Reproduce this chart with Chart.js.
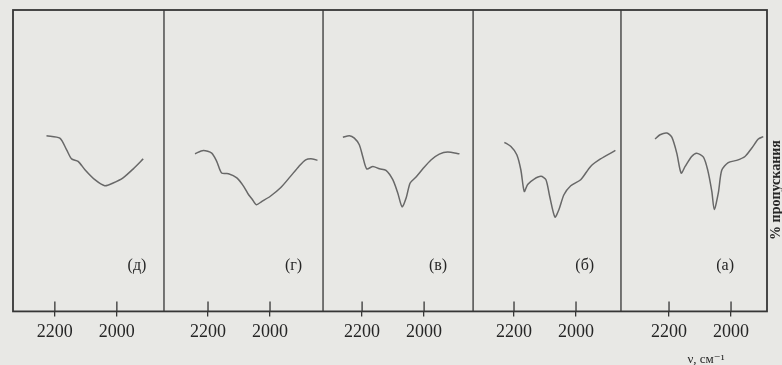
<!DOCTYPE html>
<html lang="ru">
<head>
<meta charset="UTF-8">
<title>ИК-спектры</title>
<script src="https://cdn.jsdelivr.net/npm/chart.js"></script>
<style>
  html, body { margin: 0; padding: 0; background: #e8e8e5; }
  #wrap { width: 782px; height: 365px; }
</style>
</head>
<body>
<div id="wrap"><canvas id="irChart" width="782" height="365"></canvas></div>
<script>
// panels from left to right
const panels = ['(д)', '(г)', '(в)', '(б)', '(а)'];
const tickValues = [2200, 2000];
// wavenumber at the left and right edge of each panel, cm-1
const panelMax = [2335, 2342, 2326, 2332, 2355];
const panelMin = [1848, 1829, 1842, 1855, 1884];
// where the panel letter sits
const letterNu = [1935, 1924, 1955, 1972, 2019];
const letterT = 15;

// spectra: wavenumber (cm-1) and transmittance (arb. %)
const nuD = [2227, 2184, 2162, 2146, 2125, 2103, 2071, 2039, 2012, 1980, 1947, 1915];
const tD  = [58.3, 57.5, 53.6, 50.6, 49.8, 47.0, 43.7, 41.7, 42.6, 44.3, 47.3, 50.6];

const nuG = [2242, 2215, 2188, 2172, 2156, 2134, 2107, 2085, 2069, 2058, 2044, 2026, 1999, 1966, 1934, 1907, 1885, 1863, 1847];
const tG  = [52.3, 53.4, 52.5, 49.8, 45.9, 45.7, 44.3, 41.5, 38.7, 37.3, 35.4, 36.5, 38.2, 41.0, 44.8, 48.1, 50.3, 50.6, 50.1];

const nuV = [2262, 2241, 2225, 2209, 2198, 2185, 2165, 2144, 2123, 2101, 2085, 2071, 2058, 2045, 2026, 2004, 1977, 1951, 1924, 1886];
const tV  = [57.8, 58.3, 57.5, 55.3, 51.4, 47.3, 48.1, 47.3, 46.8, 43.7, 39.3, 34.7, 37.6, 42.6, 44.6, 47.3, 50.3, 52.2, 52.9, 52.3];

const nuB = [2231, 2210, 2191, 2178, 2167, 2156, 2135, 2113, 2097, 2085, 2068, 2055, 2039, 2017, 1985, 1953, 1921, 1873];
const tB  = [56.1, 54.7, 52.0, 47.0, 39.8, 42.1, 43.9, 44.8, 43.7, 38.2, 31.3, 33.8, 38.7, 41.7, 43.7, 48.1, 50.6, 53.4];

const nuA = [2245, 2229, 2207, 2191, 2175, 2161, 2148, 2127, 2111, 2089, 2075, 2062, 2054, 2041, 2030, 2009, 1982, 1955, 1933, 1912, 1896];
const tA  = [57.2, 58.6, 59.2, 57.8, 52.5, 45.9, 48.1, 51.4, 52.5, 51.2, 46.8, 39.8, 33.8, 39.3, 46.8, 49.4, 50.1, 51.4, 54.2, 57.2, 58.0];

const spectraNu = [nuD, nuG, nuV, nuB, nuA];
const spectraT = [tD, tG, tV, tB, tA];

const ink = '#363636';
const serif = "'Liberation Serif', 'DejaVu Serif', serif";

let datasets = spectraNu.map((nu, i) => ({
    label: panels[i],
    data: nu.map((v, k) => ({ x: v, y: spectraT[i][k] })),
    xAxisID: 'x' + i,
    yAxisID: 'y',
    borderColor: '#686868',
    borderWidth: 1.5,
    pointRadius: 0,
    tension: 0.25,
    fill: false
}));

let scales = {
    y: { display: false, min: 0, max: 100 }
};
panels.forEach((p, i) => {
    scales['x' + i] = {
        type: 'linear',
        position: 'bottom',
        stack: 'nu',
        stackWeight: panelMax[i] - panelMin[i],
        reverse: true,
        min: panelMin[i],
        max: panelMax[i],
        afterBuildTicks: s => { s.ticks = tickValues.map(v => ({ value: v })); },
        border: { display: false },
        grid: { drawOnChartArea: false, tickLength: 5, color: ink, lineWidth: 1.3 },
        ticks: {
            padding: 5,
            color: '#262626',
            maxRotation: 0,
            font: { family: serif, size: 18 },
            callback: v => String(v)
        }
    };
});

// frame, panel dividers, inner tick marks and the captions
const framePlugin = {
    id: 'frame',
    afterDatasetsDraw(chart) {
        const { ctx, chartArea: a } = chart;
        ctx.save();
        ctx.strokeStyle = ink;
        ctx.lineWidth = 1.8;
        ctx.strokeRect(a.left, a.top, a.width, a.height);
        ctx.lineWidth = 1.3;
        ctx.fillStyle = '#262626';
        ctx.font = '16px ' + serif;
        ctx.textAlign = 'center';
        ctx.textBaseline = 'middle';
        panels.forEach((p, i) => {
            const sx = chart.scales['x' + i];
            ctx.beginPath();
            if (i < panels.length - 1) {
                ctx.moveTo(sx.right, a.top);
                ctx.lineTo(sx.right, a.bottom);
            }
            sx.ticks.forEach(t => {
                const px = sx.getPixelForValue(t.value);
                ctx.moveTo(px, a.bottom - 10);
                ctx.lineTo(px, a.bottom);
            });
            ctx.stroke();
            ctx.fillText(p, sx.getPixelForValue(letterNu[i]), chart.scales.y.getPixelForValue(letterT));
        });
        ctx.font = '13px ' + serif;
        ctx.fillText('ν, см⁻¹', 706, 360);
        ctx.translate(a.right + 9, 190);
        ctx.rotate(-Math.PI / 2);
        ctx.font = 'bold 14px ' + serif;
        ctx.fillText('% пропускания', 0, 0);
        ctx.restore();
    }
};

let irChart = new Chart(document.getElementById('irChart'), {
    type: 'line',
    data: { datasets: datasets },
    options: {
        responsive: false,
        animation: false,
        layout: { padding: { left: 13, right: 15, top: 10, bottom: 17 } },
        plugins: { legend: { display: false }, tooltip: { enabled: false } },
        scales: scales
    },
    plugins: [framePlugin]
});
</script>
</body>
</html>
